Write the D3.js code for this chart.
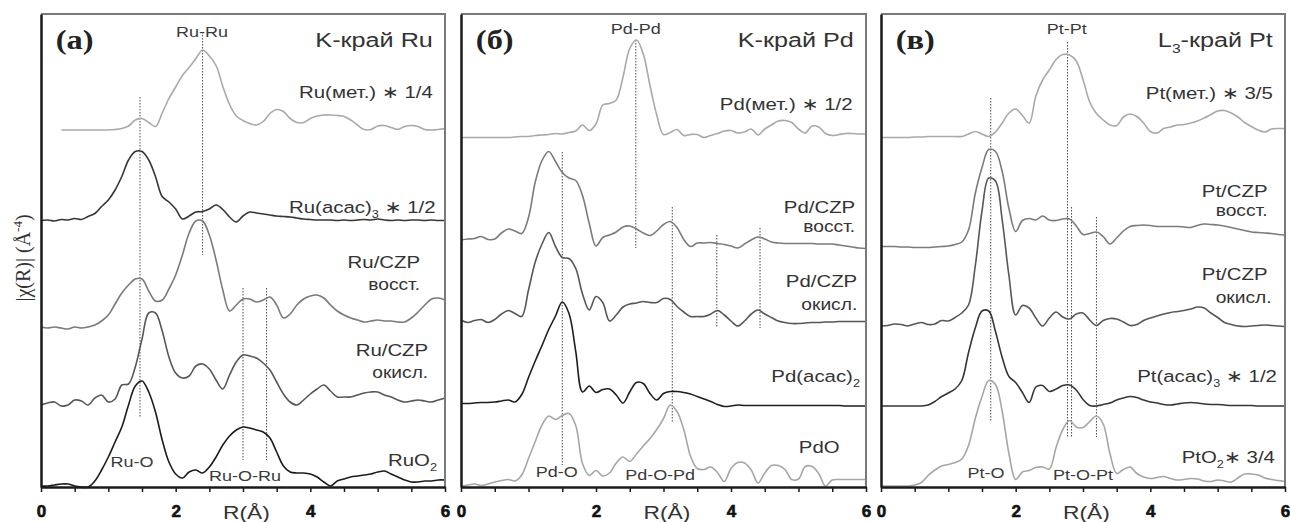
<!DOCTYPE html>
<html>
<head>
<meta charset="utf-8">
<script src="https://cdn.jsdelivr.net/npm/d3@7/dist/d3.min.js"></script>
<style>
body { margin: 0; background: #fff; }
svg { display: block; font-family: "Liberation Sans", Arial, "DejaVu Sans", sans-serif; }
</style>
</head>
<body>
<script>
'use strict';

var width = 1290,
    height = 522;

// R grid (Å), shared by every curve
var R = [0, 0.1, 0.2, 0.3, 0.4, 0.5, 0.6, 0.7, 0.8, 0.9,
         1, 1.1, 1.2, 1.3, 1.4, 1.5, 1.6, 1.7, 1.8, 1.9,
         2, 2.1, 2.2, 2.3, 2.4, 2.5, 2.6, 2.7, 2.8, 2.9,
         3, 3.1, 3.2, 3.3, 3.4, 3.5, 3.6, 3.7, 3.8, 3.9,
         4, 4.1, 4.2, 4.3, 4.4, 4.5, 4.6, 4.7, 4.8, 4.9,
         5, 5.1, 5.2, 5.3, 5.4, 5.5, 5.6, 5.7, 5.8, 5.9, 6];

var xTicks = [0, 0.5, 1, 1.5, 2, 2.5, 3, 3.5, 4, 4.5, 5, 5.5, 6];

// (а) K-edge Ru, curves already shifted up as in the figure
var ruMet = [null, null, null, 71.4, 71.4, 71.4, 71.4, 71.4, 71.4, 71.4,
    71.4, 71.5, 71.7, 72.2, 73.4, 73.7, 72.9, 72.1, 74.8, 77.7,
    80.0, 82.3, 83.9, 85.7, 87.4, 86.2, 84.3, 80.1, 76.5, 74.2,
    73.3, 72.7, 72.4, 73.1, 74.7, 75.5, 75.1, 73.7, 72.9, 72.9,
    73.7, 74.2, 74.4, 74.4, 74.3, 74.1, 73.4, 72.4, 71.5, 71.5,
    72.2, 72.3, 71.9, 71.5, 72.1, 72.3, 72.1, 71.5, 71.4, 71.5, 71.7];
var ruAcac = [53.3, 53.4, 53.2, 53.5, 53.4, 53.7, 53.5, 54.1, 54.7, 56.1,
    57.4, 59.4, 62.1, 65.4, 67.1, 67.1, 65.4, 62.1, 58.1, 57.0,
    55.6, 53.6, 54.2, 55.0, 55.1, 55.6, 56.4, 55.5, 54.0, 53.0,
    54.2, 55.0, 54.8, 54.6, 54.4, 54.2, 54.1, 54.0, 53.8, 53.6,
    53.5, 53.4, 53.4, 53.4, 53.3, 53.4, 53.3, 53.4, 53.5, 53.4,
    53.6, 53.4, 53.3, 53.4, 53.3, 53.4, 53.4, 53.3, 53.4, 53.3, 53.3];
var ruCzpRed = [32.0, 31.8, 32.0, 31.8, 31.6, 32.0, 31.8, 32.0, 32.4, 33.2,
    34.4, 36.6, 38.8, 40.4, 41.6, 41.6, 39.2, 37.2, 37.4, 39.6,
    42.4, 46.4, 50.8, 53.2, 53.2, 50.4, 45.4, 39.4, 35.2, 36.4,
    37.6, 37.6, 37.0, 37.4, 38.0, 36.4, 33.8, 34.6, 36.4, 37.6,
    38.2, 38.4, 37.8, 36.4, 35.2, 34.4, 33.8, 33.4, 33.0, 33.2,
    33.4, 33.2, 33.2, 33.0, 33.0, 33.8, 35.0, 36.4, 37.6, 37.8, 37.4];
var ruCzpOx = [16.4, 16.8, 17.0, 16.2, 16.4, 17.4, 17.2, 16.4, 17.8, 18.4,
    17.0, 17.6, 20.4, 20.6, 24.0, 29.6, 34.8, 34.8, 31.2, 26.0,
    22.8, 21.8, 22.2, 24.2, 24.6, 23.6, 21.4, 19.6, 22.4, 25.0,
    26.4, 26.2, 25.8, 24.8, 23.4, 21.0, 18.6, 17.0, 16.4, 17.4,
    18.6, 19.6, 20.4, 19.2, 18.0, 18.0, 18.0, 18.4, 18.8, 19.0,
    19.0, 18.4, 18.0, 17.4, 17.0, 17.2, 17.4, 17.2, 17.0, 17.4, 17.8];
var ruO2 = [0.2, 0.2, 0.4, 0.6, 0.6, 0.2, 0, 0, 1.2, 3.4,
    6.0, 9.0, 12.0, 16.4, 20.2, 21.2, 19.0, 15.0, 9.4, 5.0,
    2.6, 1.8, 3.0, 3.4, 2.8, 4.0, 6.0, 8.4, 10.2, 11.4,
    12.0, 11.8, 11.4, 11.0, 9.8, 7.0, 4.2, 3.0, 2.8, 2.8,
    2.6, 2.0, 1.0, 0.2, 1.2, 1.6, 2.0, 2.2, 2.4, 2.6,
    3.0, 3.2, 2.6, 2.0, 1.4, 1.0, 1.0, 1.2, 1.2, 1.4, 1.4];

// (б) K-edge Pd
var pdMet = [69.9, 69.9, 69.9, 69.9, 69.9, 69.9, 69.9, 69.9, 70.0, 70.1,
    70.1, 70.3, 70.4, 70.5, 70.7, 70.6, 70.9, 71.2, 72.4, 71.3,
    72.6, 76.4, 76.7, 77.4, 82.0, 87.7, 89.4, 86.6, 80.3, 74.4,
    70.5, 70.9, 71.5, 70.3, 70.5, 70.5, 69.9, 70.3, 70.7, 71.2,
    71.3, 70.8, 71.0, 71.6, 70.4, 71.6, 72.4, 73.2, 73.3, 72.9,
    71.6, 70.8, 72.2, 72.0, 70.7, 70.3, 70.5, 70.7, 70.7, 70.6, 70.6];
var pdCzpRed = [49.4, 49.6, 49.7, 50.1, 49.5, 49.6, 50.8, 51.6, 51.2, 50.7,
    53.9, 61.0, 65.3, 67.1, 65.1, 62.9, 61.8, 61.3, 58.3, 52.7,
    48.2, 49.9, 50.4, 51.0, 52.0, 52.2, 51.6, 50.8, 50.3, 51.2,
    52.5, 53.1, 51.9, 49.5, 48.1, 48.8, 48.8, 48.9, 48.7, 48.5,
    48.2, 47.8, 48.6, 49.4, 50.0, 49.6, 49.0, 48.8, 48.7, 48.7,
    48.7, 48.7, 48.7, 48.6, 48.6, 48.6, 48.4, 48.2, 48.0, 47.8, 47.7];
var pdCzpOx = [33.4, 32.9, 33.3, 33.5, 32.9, 33.5, 34.6, 35.3, 34.7, 34.1,
    39.4, 45.0, 48.6, 50.9, 48.1, 45.9, 45.7, 43.7, 38.6, 35.4,
    38.1, 36.9, 33.2, 34.4, 36.0, 36.6, 36.8, 37.1, 36.9, 36.9,
    37.7, 37.5, 36.1, 35.0, 34.1, 34.1, 34.1, 34.6, 35.3, 34.4,
    33.2, 32.2, 33.2, 34.6, 35.4, 34.6, 33.9, 33.2, 32.9, 32.7,
    32.7, 32.8, 32.9, 32.9, 33.0, 33.0, 33.1, 33.1, 33.1, 33.1, 33.1];
var pdAcac = [16.7, 16.7, 16.8, 16.9, 16.9, 17.0, 17.2, 17.4, 17.0, 18.5,
    21.9, 25.2, 28.3, 31.5, 34.2, 37.0, 34.7, 27.1, 19.0, 20.2,
    18.9, 19.5, 19.6, 18.4, 16.8, 19.0, 20.9, 20.7, 18.7, 17.4,
    18.7, 19.1, 19.1, 18.9, 18.6, 18.1, 17.6, 17.1, 16.5, 16.1,
    16.2, 16.4, 16.3, 16.3, 16.3, 16.3, 16.3, 16.3, 16.3, 16.3,
    16.3, 16.3, 16.3, 16.3, 16.3, 16.3, 16.3, 16.2, 16.2, 16.2, 16.2];
var pdO = [0.1, 0.4, 0.6, 0.3, 0.6, 1.0, 1.3, 1.5, 1.2, 2.4,
    5.7, 9.1, 12.4, 14.2, 13.5, 14.3, 14.7, 12.3, 4.7, 2.3,
    3.3, 2.2, 2.8, 4.8, 6.0, 5.1, 6.6, 8.2, 9.7, 11.5,
    13.7, 16.4, 15.1, 11.5, 6.2, 3.7, 3.5, 4.0, 2.9, 1.1,
    3.7, 4.9, 4.8, 3.4, 0.8, 2.8, 4.3, 4.3, 3.5, 1.5,
    1.6, 4.1, 4.1, 2.7, 0.2, 1.4, 1.5, 1.5, 1.5, 1.5, 1.5];

// (в) L3-edge Pt
var ptMet = [69.9, 69.9, 69.9, 69.9, 69.9, 70.0, 70.0, 70.1, 70.1, 70.1,
    70.1, 70.1, 70.1, 70.6, 71.1, 70.6, 70.1, 71.0, 72.8, 74.8,
    75.6, 74.3, 72.8, 78.2, 81.4, 83.4, 85.5, 86.5, 86.4, 85.2,
    81.5, 77.0, 74.7, 73.4, 72.4, 72.3, 74.0, 74.6, 74.1, 72.8,
    71.1, 70.8, 71.7, 72.0, 72.4, 72.5, 72.8, 73.2, 73.8, 74.5,
    75.2, 75.3, 74.8, 74.0, 72.9, 72.1, 71.4, 71.0, 71.6, 71.7, 71.7];
var ptCzpRed = [48.1, 48.1, 48.1, 48.0, 48.0, 47.9, 47.9, 47.9, 48.0, 48.1,
    48.2, 48.5, 49.0, 51.4, 58.7, 63.9, 67.5, 67.1, 63.1, 55.7,
    51.1, 53.3, 53.7, 53.4, 54.2, 53.4, 53.3, 53.6, 53.6, 52.2,
    50.5, 50.7, 51.0, 50.1, 48.6, 49.8, 51.2, 52.1, 52.3, 52.4,
    52.3, 52.1, 52.1, 52.1, 52.1, 52.0, 51.9, 52.3, 52.6, 52.5,
    52.4, 52.2, 51.9, 51.6, 51.3, 51.0, 50.9, 50.8, 50.7, 50.5, 50.4];
var ptCzpOx = [32.2, 32.3, 32.6, 32.5, 32.2, 32.6, 32.9, 32.5, 32.6, 33.3,
    33.2, 33.9, 34.8, 36.4, 44.2, 55.2, 61.8, 61.2, 53.4, 42.3,
    34.4, 36.3, 35.8, 33.8, 32.2, 33.8, 35.0, 34.0, 33.6, 34.6,
    34.8, 33.4, 32.3, 33.3, 33.7, 33.6, 33.0, 32.3, 32.5, 33.3,
    33.8, 34.2, 34.6, 34.9, 35.1, 35.3, 35.6, 36.0, 35.8, 34.8,
    33.9, 32.9, 32.5, 32.2, 32.1, 32.2, 32.3, 32.4, 32.3, 32.2, 32.1];
var ptAcac = [16.2, 16.2, 16.2, 16.2, 16.2, 16.2, 16.2, 16.4, 17.1, 18.1,
    18.8, 19.6, 21.3, 26.9, 31.8, 35.2, 35.2, 31.1, 25.9, 22.1,
    20.9, 18.9, 16.9, 20.0, 20.3, 19.1, 19.6, 20.3, 20.4, 19.4,
    17.5, 16.3, 16.2, 16.5, 16.8, 17.4, 17.8, 18.1, 17.9, 17.4,
    17.0, 16.8, 16.5, 16.4, 16.6, 16.8, 16.9, 16.8, 16.6, 16.5,
    16.5, 16.4, 16.3, 16.3, 16.3, 16.3, 16.2, 16.2, 16.2, 16.2, 16.2];
var ptO2 = [0.2, 0.2, 0.2, 0.2, 0.2, 0.4, 0.9, 2.3, 3.4, 4.2,
    4.5, 4.9, 5.6, 8.3, 13.7, 18.1, 21.3, 20.5, 15.1, 6.7,
    1.5, 3.0, 3.3, 3.9, 4.0, 3.6, 7.9, 11.5, 13.3, 12.0,
    11.9, 13.1, 14.2, 12.6, 6.7, 2.7, 3.5, 4.0, 2.7, 2.0,
    1.7, 1.9, 2.1, 1.7, 1.4, 1.5, 1.7, 1.6, 1.2, 1.1,
    1.4, 1.2, 1.0, 1.8, 2.6, 2.6, 2.4, 1.8, 1.5, 1.3, 1.1];

var cMet = "#a9a9a9", cRed = "#7b7b7b", cOx = "#575757", cAcac = "#363636";

// annotations are placed in data units: [R, |chi|]
var panels = [
    {
        left: 41, right: 445,
        letter: "(а)",
        edge: [["K-край Ru"]],
        curves: [[ruMet, cMet], [ruAcac, cAcac], [ruCzpRed, cRed], [ruCzpOx, cOx], [ruO2, "#1c1c1c"]],
        marks: [[1.47, 78, 13.8], [2.40, 91, 46.4], [3.0, 39.8, 5.4], [3.35, 39.8, 5.4]],
        bonds: [["Ru-Ru", 2.39, 90], ["Ru-O", 1.35, 4], ["Ru-O-Ru", 3.03, 1.2]],
        names: [
            [[["Ru(мет.) ∗ 1/4"]], 5.82, 77.8],
            [[["Ru(acac)"], ["3", "sub"], [" ∗ 1/2"]], 5.86, 54.8],
            [[["Ru/CZP"]], 5.63, 43.8],
            [[["восст."]], 5.63, 39.4, true],
            [[["Ru/CZP"]], 5.75, 26.2],
            [[["окисл."]], 5.75, 21.8, true],
            [[["RuO"], ["2", "sub"]], 5.88, 4.2]
        ]
    },
    {
        left: 461, right: 866,
        letter: "(б)",
        edge: [["K-край Pd"]],
        curves: [[pdMet, cMet], [pdCzpRed, cRed], [pdCzpOx, cOx], [pdAcac, "#1e1e1e"], [pdO, "#a6a6a6"]],
        marks: [[1.5, 67, 4.4], [2.59, 89.4, 47.8], [3.13, 56, 12.8], [3.79, 50.4, 31.8], [4.43, 51.8, 31.8]],
        bonds: [["Pd-Pd", 2.59, 90.6], ["Pd-O", 1.42, 2], ["Pd-O-Pd", 2.95, 1.4]],
        names: [
            [[["Pd(мет.) ∗ 1/2"]], 5.8, 75.4],
            [[["Pd/CZP"]], 5.84, 54.8],
            [[["восст."]], 5.84, 51, true],
            [[["Pd/CZP"]], 5.87, 40],
            [[["окисл."]], 5.87, 35.4, true],
            [[["Pd(acac)"], ["2", "sub"]], 5.91, 21],
            [[["PdO"]], 5.61, 6.8]
        ]
    },
    {
        left: 881, right: 1285,
        letter: "(в)",
        edge: [["L"], ["3", "sub"], ["-край Pt"]],
        curves: [[ptMet, cMet], [ptCzpRed, cRed], [ptCzpOx, cOx], [ptAcac, cAcac], [ptO2, "#a6a6a6"]],
        marks: [[1.63, 77.8, 13], [2.77, 89, 10], [2.83, 56, 10], [3.2, 54, 10]],
        bonds: [["Pt-Pt", 2.76, 90.6], ["Pt-O", 1.56, 1.8], ["Pt-O-Pt", 3.0, 1.4]],
        names: [
            [[["Pt(мет.) ∗ 3/5"]], 5.82, 77.6],
            [[["Pt/CZP"]], 5.74, 58],
            [[["восст."]], 5.74, 54.2, true],
            [[["Pt/CZP"]], 5.74, 41.4],
            [[["окисл."]], 5.8, 36.8, true],
            [[["Pt(acac)"], ["3", "sub"], [" ∗ 1/2"]], 5.88, 21],
            [[["PtO"], ["2", "sub"], ["∗ 3/4"]], 5.85, 4.8]
        ]
    }
];

var plotTop = 14, plotBottom = 487, sx = 1.2;

var svg = d3.select("body").append("svg")
    .attr("width", width)
    .attr("height", height);

var y = d3.scaleLinear()
    .domain([0, (plotBottom - plotTop) / 5])
    .range([plotBottom, plotTop]);

// text squeezed wider like in the scanned figure
function addText(g, x, yy, parts, size, anchor, fill) {
    var t = g.append("text")
        .attr("transform", "translate(" + x + "," + yy + ") scale(" + sx + ",1)")
        .attr("text-anchor", anchor)
        .style("font-size", size + "px")
        .attr("fill", fill || "#333");
    var shift = 0;
    parts.forEach(function(p) {
        var s = t.append("tspan").text(p[0]);
        if (p[1] === "sub") {
            s.style("font-size", (size * 0.62) + "px").attr("dy", size * 0.28 - shift);
            shift = size * 0.28;
        } else if (shift) {
            s.attr("dy", -shift);
            shift = 0;
        }
    });
    return t;
}

panels.forEach(function(p) {
    var x = d3.scaleLinear().domain([0, 6]).range([p.left, p.right]);
    var g = svg.append("g");

    var line = d3.line()
        .defined(function(d) { return d[1] != null; })
        .x(function(d) { return x(d[0]); })
        .y(function(d) { return y(d[1]); })
        .curve(d3.curveCatmullRom.alpha(0.5));

    // dotted guide lines
    g.append("g")
        .selectAll("line")
        .data(p.marks)
        .enter().append("line")
            .attr("x1", function(d) { return x(d[0]); })
            .attr("x2", function(d) { return x(d[0]); })
            .attr("y1", function(d) { return y(d[1]); })
            .attr("y2", function(d) { return y(d[2]); })
            .attr("stroke", "#4a4a4a")
            .attr("stroke-width", 1)
            .attr("stroke-dasharray", "1.5,1.5");

    g.append("g")
        .selectAll("path")
        .data(p.curves)
        .enter().append("path")
            .attr("d", function(c) { return line(R.map(function(r, i) { return [r, c[0][i]]; })); })
            .attr("fill", "none")
            .attr("stroke", function(c) { return c[1]; })
            .attr("stroke-width", 1.6)
            .attr("stroke-linejoin", "round");

    // frame: light top/right, dark left/bottom
    g.append("path")
        .attr("d", "M" + p.left + "," + plotTop + "H" + p.right + "V" + plotBottom)
        .attr("fill", "none")
        .attr("stroke", "#7a7a7a")
        .attr("stroke-width", 2);

    g.append("g")
        .attr("transform", "translate(" + p.left + ",0)")
        .call(d3.axisLeft(y).tickValues([]).tickSizeOuter(0))
        .call(function(a) { a.select(".domain").attr("stroke", "#1a1a1a").attr("stroke-width", 2.5); });

    var ax = g.append("g")
        .attr("transform", "translate(0," + plotBottom + ")")
        .call(d3.axisBottom(x)
            .tickValues(xTicks)
            .tickSize(5)
            .tickSizeOuter(0)
            .tickPadding(13)
            .tickFormat(function(d) { return d % 2 === 0 ? d : ""; }));
    ax.select(".domain").attr("stroke", "#1a1a1a").attr("stroke-width", 2.5);
    ax.selectAll(".tick line").attr("stroke", "#1a1a1a").attr("stroke-width", 1.5);
    ax.selectAll(".tick text")
        .attr("fill", "#111")
        .attr("stroke", "#111")
        .attr("stroke-width", 0.6)
        .style("font", "bold 17px 'Liberation Sans', Arial, sans-serif");

    addText(g, x(3.05), 519, [["R(Å)"]], 19, "middle", "#333");

    g.append("text")
        .attr("transform", "translate(" + x(0.22) + "," + y(87.6) + ") scale(" + sx + ",1)")
        .style("font-family", "'Liberation Serif', 'Times New Roman', serif")
        .style("font-weight", "bold")
        .style("font-size", "27px")
        .attr("fill", "#222")
        .text(p.letter);

    addText(g, x(5.82), y(88), p.edge, 21, "end");

    p.bonds.forEach(function(b) {
        addText(g, x(b[1]), y(b[2]), [[b[0]]], 15, "middle", "#3a3a3a");
    });

    p.names.forEach(function(n) {
        addText(g, x(n[1]), y(n[2]), n[0], n[3] ? 16 : 17, "end");
    });
});

svg.append("text")
    .attr("transform", "translate(30,258) rotate(-90)")
    .attr("text-anchor", "middle")
    .style("font-family", "'Liberation Serif', 'Times New Roman', serif")
    .style("font-size", "20px")
    .attr("fill", "#333")
    .call(function(t) {
        t.append("tspan").text("|χ(R)| (Å");
        t.append("tspan").text("-4").style("font-size", "13px").attr("dy", -8);
        t.append("tspan").text(")").attr("dy", 8);
    });
</script>
</body>
</html>
